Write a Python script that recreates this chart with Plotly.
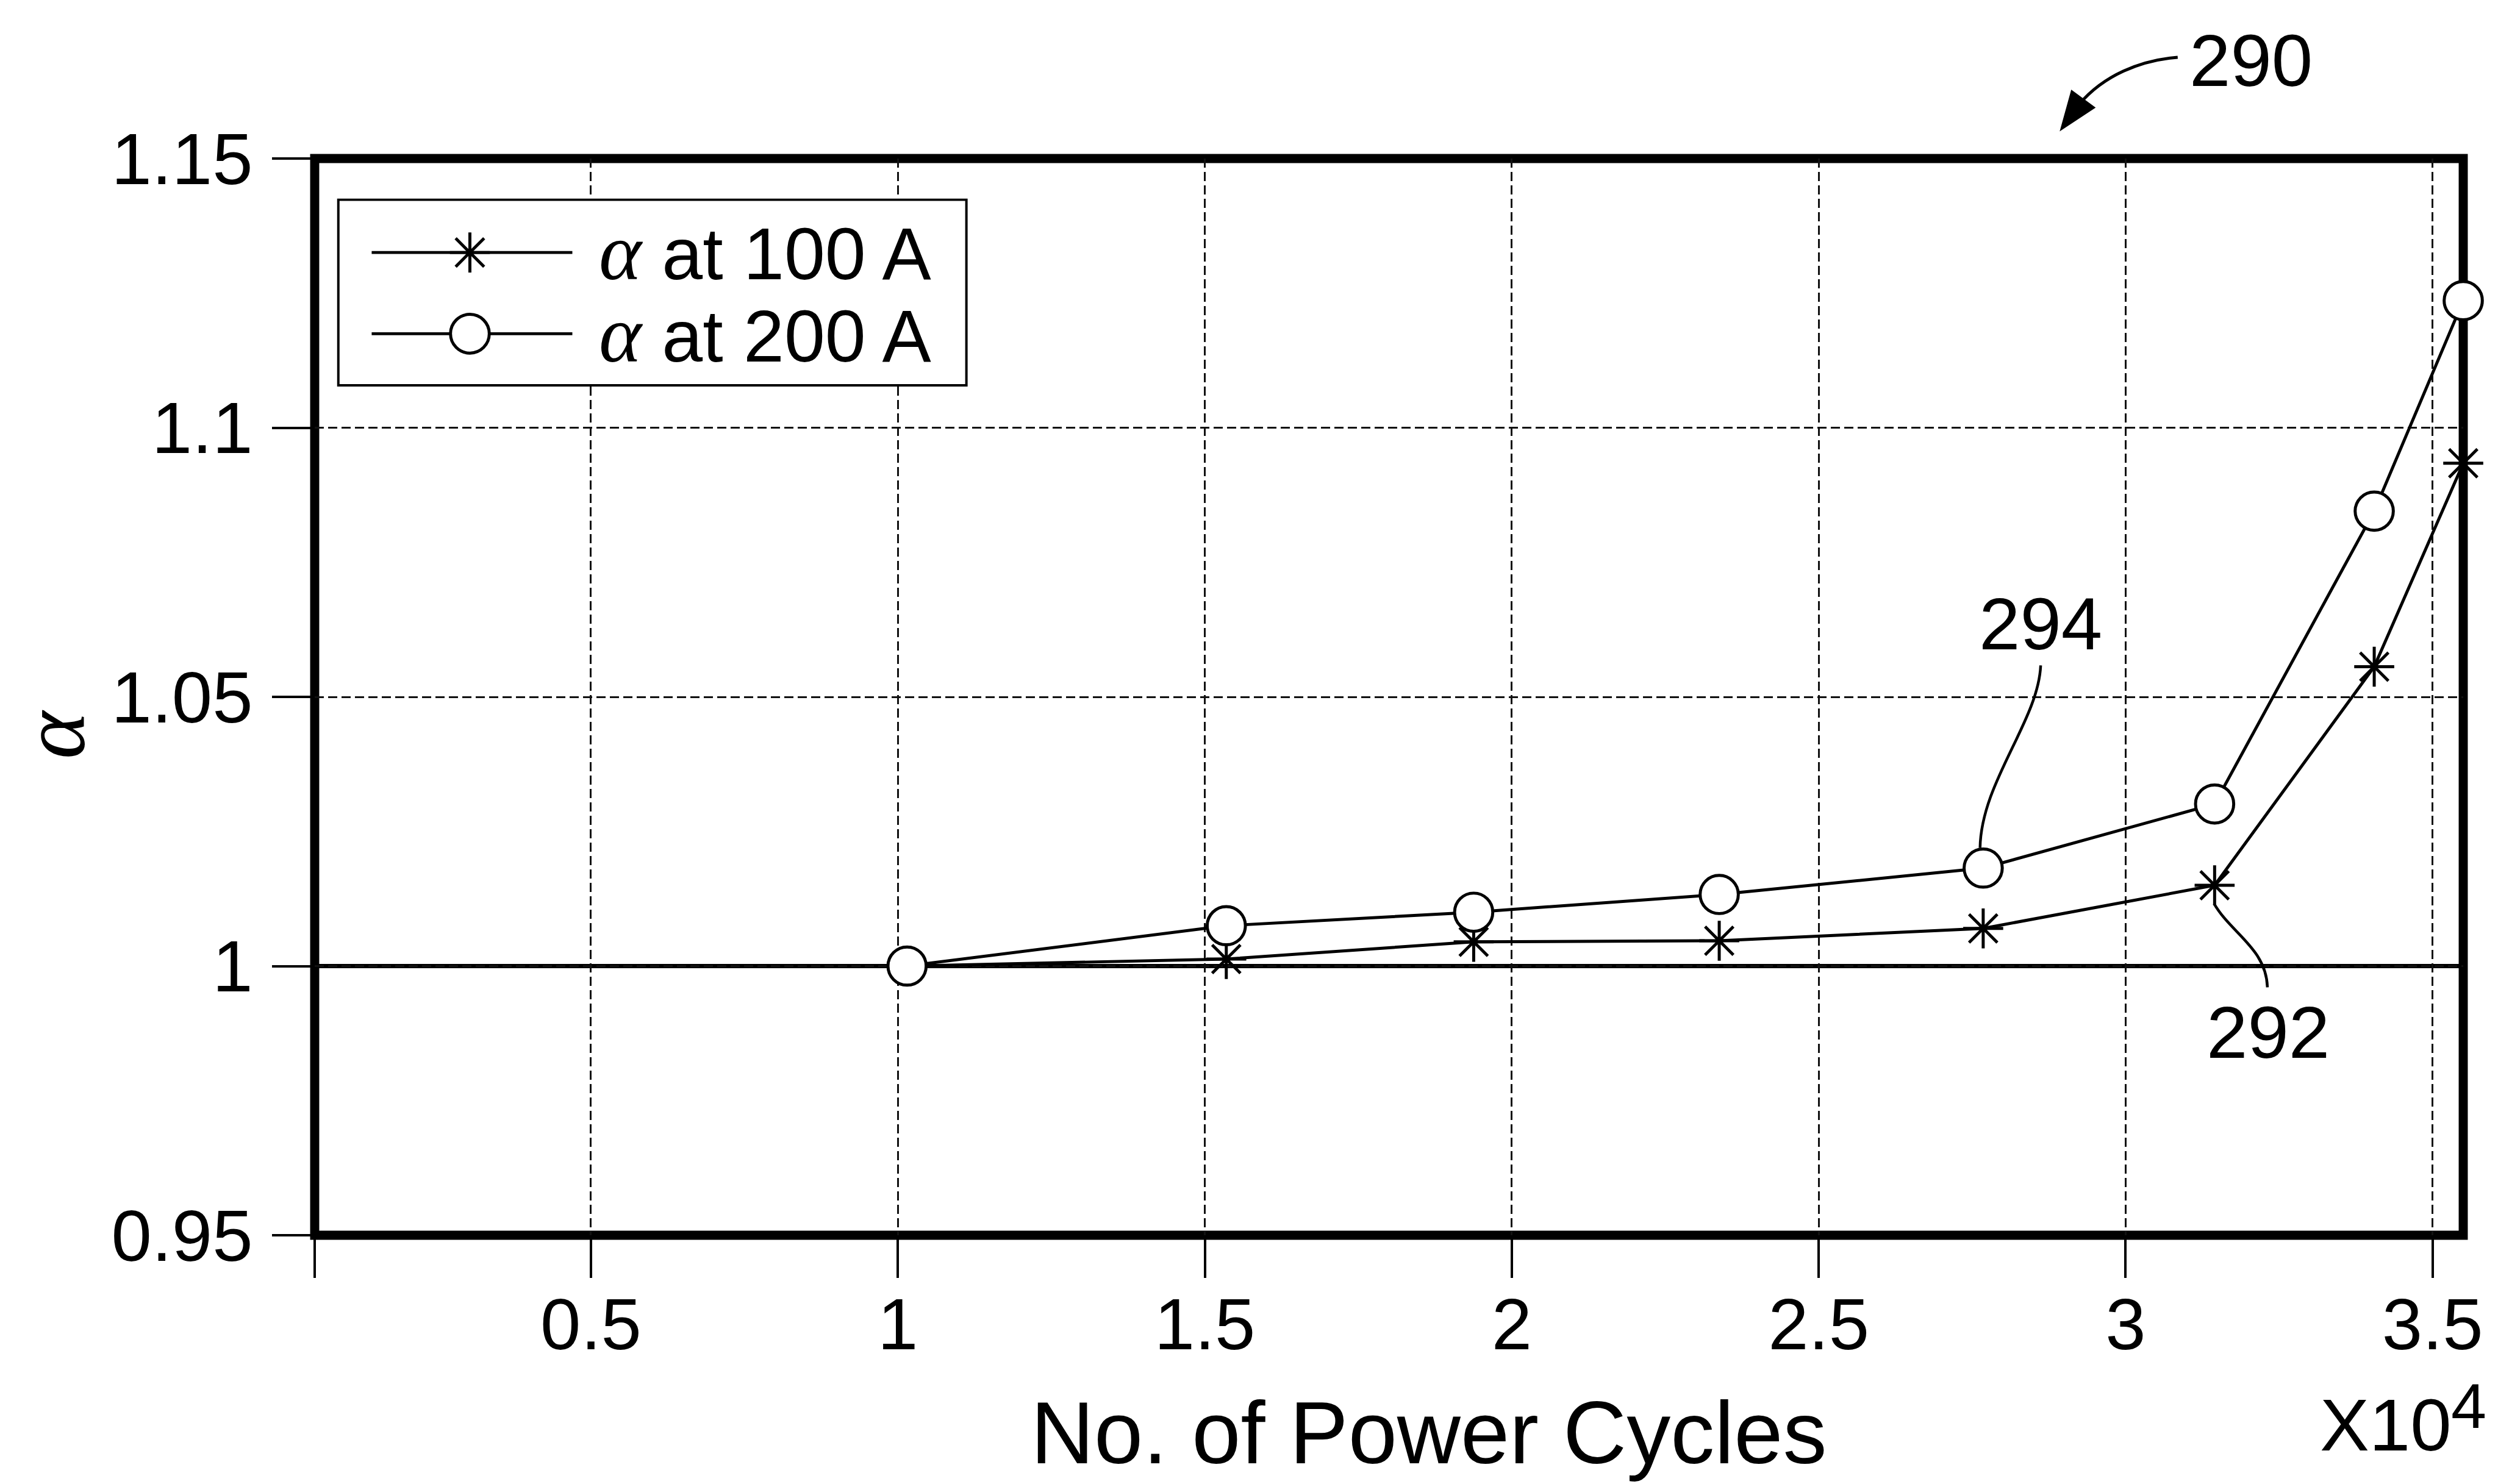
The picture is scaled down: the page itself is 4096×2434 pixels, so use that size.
import plotly.graph_objects as go

# ---------------- data (x in units of 10^4 power cycles) ----------------
cycles_x1e4 = [1.015, 1.535, 1.938, 2.338, 2.768, 3.145, 3.405, 3.55]
alpha_100A = [1.000, 1.0013, 1.0045, 1.0047, 1.0070, 1.0150, 1.0556, 1.0934]
alpha_200A = [1.000, 1.0075, 1.0100, 1.0133, 1.0182, 1.0301, 1.0845, 1.1236]
series_names = ["α at 100 A", "α at 200 A"]

x_tickvals = [0.05, 0.5, 1.0, 1.5, 2.0, 2.5, 3.0, 3.5]
x_ticktext = ["", "0.5", "1", "1.5", "2", "2.5", "3", "3.5"]
y_tickvals = [0.95, 1.0, 1.05, 1.1, 1.15]
y_ticktext = ["0.95", "1", "1.05", "1.1", "1.15"]
x_range = [0.05, 3.55]
y_range = [0.95, 1.15]
baseline_alpha = 1.0

x_title = "No. of Power Cycles"
y_title = "<i>α</i>"
x_multiplier = "X10"
x_exponent = "4"
ref_labels = ["290", "294", "292"]

# ---------------- layout helpers ----------------
S = 0.994                      # scale from reference to window
W, H = 4096, 2434
L_, R_, T_, B_ = 519, 4063, 262, 2038   # plot box in reference pixels


def px(X):
    return (X - L_) / (R_ - L_)


def py(Y):
    return (B_ - Y) / (B_ - T_)


def f(v):
    return v * S


SANS = "Liberation Sans, Arial, sans-serif"
SERIF = "Liberation Serif, Times New Roman, serif"
BLACK = "#000000"

fig = go.Figure()

fig.add_trace(go.Scatter(
    x=cycles_x1e4, y=alpha_100A, name=series_names[0], mode="lines+markers",
    line=dict(color=BLACK, width=f(5)),
    marker=dict(symbol="asterisk-open", size=f(55), color=BLACK,
                line=dict(color=BLACK, width=f(5))),
    cliponaxis=False, showlegend=False))

fig.add_trace(go.Scatter(
    x=cycles_x1e4, y=alpha_200A, name=series_names[1], mode="lines+markers",
    line=dict(color=BLACK, width=f(5)),
    marker=dict(symbol="circle", size=f(63), color="white",
                line=dict(color=BLACK, width=f(5))),
    cliponaxis=False, showlegend=False))

tickfont = dict(family=SANS, size=f(120), color=BLACK)
grid_kw = dict(showgrid=True, gridcolor="#111111", gridwidth=f(3),
               griddash="15px,7px", zeroline=False, showline=False,
               ticks="outside", ticklen=f(69), tickwidth=f(4), tickcolor=BLACK,
               tickfont=tickfont, layer="below traces")

fig.update_xaxes(range=x_range, tickvals=x_tickvals, ticktext=x_ticktext,
                 ticklabelstandoff=-26, **grid_kw)
fig.update_yaxes(range=y_range, tickvals=y_tickvals, ticktext=y_ticktext,
                 ticklabelstandoff=8, **grid_kw)

shapes = []
# emphasised baseline at alpha = 1
shapes.append(dict(type="line", xref="paper", yref="y", x0=0, x1=1,
                   y0=baseline_alpha, y1=baseline_alpha,
                   line=dict(color=BLACK, width=f(7)), layer="between"))
# heavy plot frame
shapes.append(dict(type="rect", xref="paper", yref="paper", x0=0, x1=1, y0=0, y1=1,
                   line=dict(color=BLACK, width=f(15)), layer="between"))

# ---- custom legend ----
shapes.append(dict(type="rect", xref="paper", yref="paper",
                   x0=px(558), x1=px(1594), y0=py(636), y1=py(330),
                   line=dict(color=BLACK, width=f(4)), fillcolor="white", layer="above"))
for yy in (417, 551):
    shapes.append(dict(type="line", xref="paper", yref="paper",
                       x0=px(613), x1=px(944), y0=py(yy), y1=py(yy),
                       line=dict(color=BLACK, width=f(5)), layer="above"))
rc, rs = f(33), f(23.5)
shapes.append(dict(type="path", xref="paper", yref="paper",
                   xsizemode="pixel", ysizemode="pixel",
                   xanchor=px(775), yanchor=py(417),
                   path=(f"M0,{rc} L0,{-rc} M{rc},0 L{-rc},0 "
                         f"M{rs},{rs} L{-rs},{-rs} M{rs},{-rs} L{-rs},{rs}"),
                   line=dict(color=BLACK, width=f(5)), layer="above"))
rr = f(32)
shapes.append(dict(type="circle", xref="paper", yref="paper",
                   xsizemode="pixel", ysizemode="pixel",
                   xanchor=px(775), yanchor=py(551),
                   x0=-rr, x1=rr, y0=-rr, y1=rr,
                   line=dict(color=BLACK, width=f(5)), fillcolor="white", layer="above"))


def P(X, Y):
    return f"{px(X):.5f},{py(Y):.5f}"


# leader lines for reference numerals
shapes.append(dict(type="path", xref="paper", yref="paper",
                   path=f"M{P(3366,1098)} C{P(3362,1190)} {P(3268,1290)} {P(3266,1399)}",
                   line=dict(color=BLACK, width=f(4.5)), layer="above"))
shapes.append(dict(type="path", xref="paper", yref="paper",
                   path=f"M{P(3652,1491)} C{P(3680,1540)} {P(3738,1565)} {P(3740,1629)}",
                   line=dict(color=BLACK, width=f(4.5)), layer="above"))
# curved arrow for 290
shapes.append(dict(type="path", xref="paper", yref="paper",
                   path=f"M{P(3592,95)} C{P(3530,100)} {P(3470,125)} {P(3430,172)}",
                   line=dict(color=BLACK, width=f(5)), layer="above"))
shapes.append(dict(type="path", xref="paper", yref="paper",
                   path=f"M{P(3399,215)} L{P(3417,150)} L{P(3455,178)} Z",
                   line=dict(color=BLACK, width=f(2)), fillcolor=BLACK, layer="above"))

annotations = []


def ann(text, X, Y, size, family=SANS, xanchor="center", yanchor="middle", angle=0):
    annotations.append(dict(text=text, xref="paper", yref="paper", x=px(X), y=py(Y),
                            xanchor=xanchor, yanchor=yanchor, showarrow=False,
                            textangle=angle, borderpad=0,
                            font=dict(family=family, size=f(size), color=BLACK)))


ann(ref_labels[0], 3713, 100, 122)
ann(ref_labels[1], 3366, 1029, 122)
ann(ref_labels[2], 3741, 1703, 122)
ann(x_title, 2357, 2364, 145)
ann(x_multiplier, 3826, 2351, 122, xanchor="left")
ann(x_exponent, 4072, 2320, 105)
ann(y_title, 88, 1212, 150, family=SERIF, angle=-90)

alpha_span = "<span style='font-family:Liberation Serif;font-size:{}px'><i>α</i></span>".format(round(f(134), 1))
ann(alpha_span + " at 100 A", 987, 416, 121, xanchor="left")
ann(alpha_span + " at 200 A", 987, 552, 121, xanchor="left")

fig.update_layout(
    width=W, height=H,
    margin=dict(l=round(L_ * S), r=W - round(R_ * S), t=round(T_ * S), b=H - round(B_ * S),
                autoexpand=False),
    paper_bgcolor="white", plot_bgcolor="white",
    showlegend=False,
    shapes=shapes, annotations=annotations,
    font=dict(family=SANS, color=BLACK),
)

fig.write_html("out.html")
